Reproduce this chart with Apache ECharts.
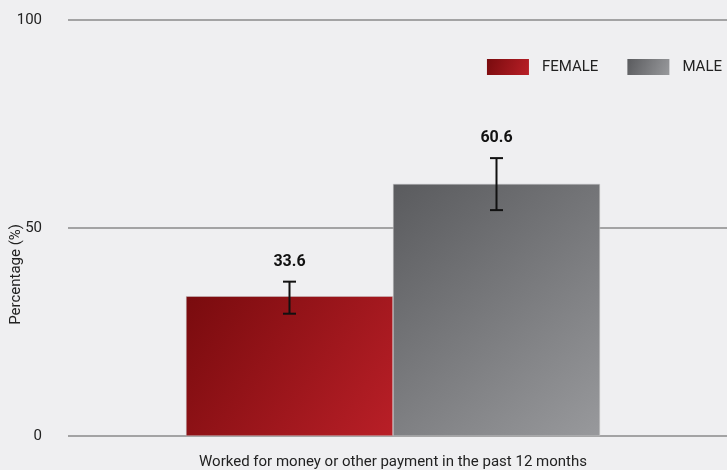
<!DOCTYPE html>
<html>
<head>
<meta charset="utf-8">
<script src="https://cdn.jsdelivr.net/npm/echarts@6/dist/echarts.min.js"></script>
<style>
  html, body { margin: 0; padding: 0; background: #efeff1; }
  #chart { width: 727px; height: 470px; }
</style>
</head>
<body>
<div id="chart"></div>
<script>
// data
const categories = ['Worked for money or other payment in the past 12 months'];
const seriesNames = ['FEMALE', 'MALE'];
const femaleValues = [33.6];
const maleValues = [60.6];
const femaleLow = [29.4];
const femaleHigh = [37.1];
const maleLow = [54.3];
const maleHigh = [66.8];
const yTicks = [0, 50, 100];

const FONT = '"Liberation Sans Narrow", "Roboto", sans-serif';
const BAR_W = 207;

const redGrad = new echarts.graphic.LinearGradient(0, 0, 1, 1, [
    { offset: 0, color: '#790b0e' },
    { offset: 1, color: '#b91f27' }
]);
const greyGrad = new echarts.graphic.LinearGradient(0, 0, 1, 1, [
    { offset: 0, color: '#5a5b5e' },
    { offset: 1, color: '#98999c' }
]);

const chart = echarts.init(document.getElementById('chart'), null, { renderer: 'canvas' });

// error bar + value label, placed over the centre of its bar
function errorBar(seriesIndex, values) {
    return function (params, api) {
        const cat = api.value(0);
        const low = api.coord([cat, api.value(1)]);
        const high = api.coord([cat, api.value(2)]);
        const x = low[0] + (seriesIndex === 0 ? -BAR_W / 2 : BAR_W / 2);
        const cap = 6.5;
        const style = { stroke: '#111', lineWidth: 2 };
        return {
            type: 'group',
            children: [
                { type: 'line', shape: { x1: x, y1: high[1], x2: x, y2: low[1] }, style },
                { type: 'line', shape: { x1: x - cap, y1: high[1], x2: x + cap, y2: high[1] }, style },
                { type: 'line', shape: { x1: x - cap, y1: low[1], x2: x + cap, y2: low[1] }, style },
                {
                    type: 'text',
                    style: {
                        x: x, y: high[1] - 12,
                        text: String(values[params.dataIndex]),
                        align: 'center', verticalAlign: 'bottom',
                        font: 'bold 16px ' + FONT, fill: '#111'
                    }
                }
            ]
        };
    };
}

const option = {
    backgroundColor: '#efeff1',
    animation: false,
    grid: [
        { left: 59, right: 0, top: 20, bottom: 34 },   // bars
        { left: 68, right: 0, top: 20, bottom: 34 }    // gridlines and tick labels
    ],
    legend: {
        data: seriesNames,
        right: 0,
        top: 54,
        itemWidth: 42,
        itemHeight: 16,
        itemGap: 29,
        icon: 'rect',
        itemStyle: { borderWidth: 0 },
        textStyle: { fontFamily: FONT, fontSize: 15, color: '#222', padding: [0, 0, 0, 8] }
    },
    xAxis: [
        {
            type: 'category',
            gridIndex: 0,
            data: categories,
            axisLine: { show: false },
            axisTick: { show: false },
            axisLabel: { fontFamily: FONT, fontSize: 15, color: '#222', margin: 19 }
        },
        {
            type: 'value',
            gridIndex: 1,
            show: false
        }
    ],
    yAxis: [
        {
            type: 'value',
            gridIndex: 0,
            min: yTicks[0],
            max: yTicks[yTicks.length - 1],
            interval: 50,
            show: false
        },
        {
            type: 'value',
            gridIndex: 1,
            min: yTicks[0],
            max: yTicks[yTicks.length - 1],
            interval: 50,
            axisLine: { show: false },
            axisTick: { show: false },
            axisLabel: { fontFamily: FONT, fontSize: 15, color: '#222', margin: 26 },
            splitLine: { lineStyle: { color: '#8a8a8a', width: 1.5 } },
            z: 0
        }
    ],
    graphic: [{
        type: 'text',
        left: 9,
        top: 224,
        rotation: Math.PI / 2,
        style: { text: 'Percentage (%)', font: '15px ' + FONT, fill: '#222' }
    }],
    series: [
        {
            name: seriesNames[0],
            type: 'bar',
            data: femaleValues,
            barGap: '0%',
            barWidth: BAR_W,
            itemStyle: { color: redGrad, borderColor: '#c9c9cb', borderWidth: 0.5 },
            z: 3
        },
        {
            name: seriesNames[1],
            type: 'bar',
            data: maleValues,
            barWidth: BAR_W,
            itemStyle: { color: greyGrad, borderColor: '#c9c9cb', borderWidth: 0.5 },
            z: 3
        },
        {
            type: 'custom',
            renderItem: errorBar(0, femaleValues),
            data: categories.map((c, i) => [i, femaleLow[i], femaleHigh[i]]),
            z: 10
        },
        {
            type: 'custom',
            renderItem: errorBar(1, maleValues),
            data: categories.map((c, i) => [i, maleLow[i], maleHigh[i]]),
            z: 10
        }
    ]
};

chart.setOption(option);
</script>
</body>
</html>
